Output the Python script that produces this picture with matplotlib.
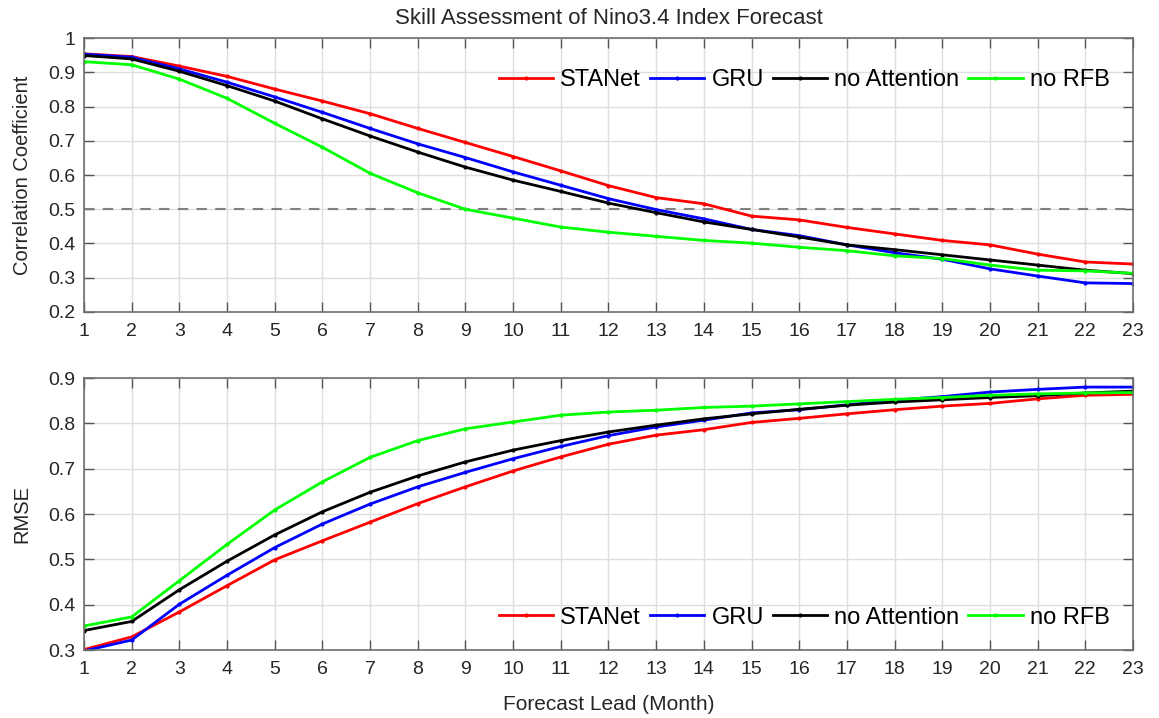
import numpy as np
import matplotlib.pyplot as plt

plt.rcParams['font.family'] = ['Liberation Sans', 'DejaVu Sans']

# ===== data =====
lead = list(range(1, 24))

cc_stanet = [0.954, 0.946, 0.918, 0.888, 0.851, 0.816, 0.779, 0.736, 0.695, 0.654,
             0.612, 0.569, 0.534, 0.516, 0.480, 0.469, 0.447, 0.428, 0.409, 0.396,
             0.369, 0.346, 0.340]
cc_gru = [0.953, 0.944, 0.910, 0.871, 0.828, 0.783, 0.736, 0.691, 0.651, 0.609,
          0.570, 0.531, 0.499, 0.472, 0.441, 0.423, 0.396, 0.373, 0.354, 0.326,
          0.305, 0.285, 0.283]
cc_noatt = [0.949, 0.939, 0.903, 0.861, 0.816, 0.764, 0.714, 0.667, 0.623, 0.585,
            0.552, 0.518, 0.490, 0.463, 0.441, 0.419, 0.396, 0.382, 0.367, 0.352,
            0.337, 0.322, 0.312]
cc_norfb = [0.931, 0.922, 0.880, 0.824, 0.751, 0.681, 0.605, 0.548, 0.500, 0.474,
            0.448, 0.433, 0.421, 0.409, 0.401, 0.389, 0.379, 0.364, 0.356, 0.337,
            0.322, 0.320, 0.313]

rmse_stanet = [0.301, 0.329, 0.384, 0.442, 0.499, 0.541, 0.582, 0.623, 0.660, 0.695,
               0.726, 0.754, 0.774, 0.786, 0.802, 0.811, 0.821, 0.830, 0.838, 0.844,
               0.854, 0.862, 0.864]
rmse_gru = [0.298, 0.322, 0.401, 0.465, 0.526, 0.578, 0.622, 0.660, 0.692, 0.722,
            0.749, 0.773, 0.792, 0.807, 0.823, 0.830, 0.841, 0.851, 0.859, 0.869,
            0.875, 0.880, 0.880]
rmse_noatt = [0.343, 0.363, 0.433, 0.496, 0.554, 0.605, 0.648, 0.684, 0.715, 0.741,
              0.762, 0.781, 0.796, 0.810, 0.821, 0.831, 0.840, 0.847, 0.852, 0.857,
              0.861, 0.867, 0.871]
rmse_norfb = [0.353, 0.373, 0.453, 0.533, 0.609, 0.671, 0.725, 0.762, 0.788, 0.803,
              0.818, 0.825, 0.829, 0.835, 0.838, 0.843, 0.848, 0.853, 0.857, 0.862,
              0.865, 0.867, 0.868]

names = ["STANet", "GRU", "no Attention", "no RFB"]
colors = ["#ff0000", "#0000ff", "#000000", "#00ff00"]

fig = plt.figure(figsize=(11.59, 7.18), dpi=100)
ax1 = fig.add_axes([0.0725, 0.5655, 0.905, 0.3815])
ax2 = fig.add_axes([0.0725, 0.0947, 0.905, 0.3788])

txt = "#262626"


def style(ax):
    ax.set_xlim(1, 23)
    ax.set_xticks(lead)
    ax.grid(True, color="#dedede", linewidth=1.0)
    ax.set_axisbelow(True)
    ax.tick_params(direction="in", top=True, right=True, length=7.5, width=1,
                   colors="#555555", labelsize=14, labelcolor=txt)
    ax.tick_params(axis="x", pad=8)
    ax.tick_params(axis="y", pad=6)
    for s in ax.spines.values():
        s.set_color("#6e6e6e")
        s.set_linewidth(1.2)


# ===== 1. 相関係数 =====
for y, n, c in zip([cc_stanet, cc_gru, cc_noatt, cc_norfb], names, colors):
    ax1.plot(lead, y, color=c, linewidth=2, marker=".", markersize=4, label=n)
ax1.axhline(0.5, color="#808080", linestyle="--", linewidth=1.5, dashes=(5, 4), zorder=1)
ax1.set_ylim(0.2, 1.0)
ax1.set_yticks(np.arange(0.2, 1.01, 0.1))
ax1.set_yticklabels(["0.2", "0.3", "0.4", "0.5", "0.6", "0.7", "0.8", "0.9", "1"])
ax1.set_ylabel("Correlation Coefficient", fontsize=14.5, color=txt, labelpad=12)
ax1.set_title("Skill Assessment of Nino3.4 Index Forecast", fontsize=16, color=txt, pad=10)
style(ax1)
ax1.legend(loc="upper right", ncol=4, frameon=False, fontsize=17, handlelength=2.3,
           handletextpad=0.3, columnspacing=0.38, bbox_to_anchor=(0.998, 0.965))

# ===== 2. RMSE =====
for y, n, c in zip([rmse_stanet, rmse_gru, rmse_noatt, rmse_norfb], names, colors):
    ax2.plot(lead, y, color=c, linewidth=2, marker=".", markersize=4, label=n)
ax2.set_ylim(0.3, 0.9)
ax2.set_yticks(np.arange(0.3, 0.91, 0.1))
ax2.set_yticklabels(["0.3", "0.4", "0.5", "0.6", "0.7", "0.8", "0.9"])
ax2.set_ylabel("RMSE", fontsize=14.5, color=txt, labelpad=12)
ax2.set_xlabel("Forecast Lead (Month)", fontsize=15, color=txt, labelpad=12)
style(ax2)
ax2.legend(loc="lower right", ncol=4, frameon=False, fontsize=17, handlelength=2.3,
           handletextpad=0.3, columnspacing=0.38, bbox_to_anchor=(0.998, 0.0))

fig.savefig("out.png", dpi=100)
